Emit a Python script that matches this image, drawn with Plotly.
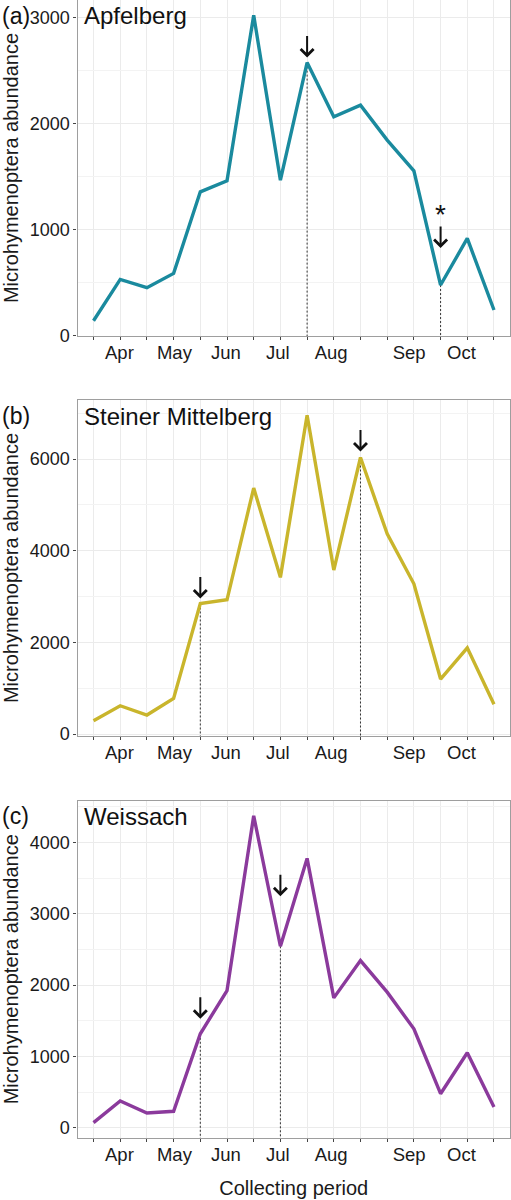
import plotly.graph_objects as go

# ---------------- data ----------------
samples = list(range(1, 17))
month_labels = ["Apr", "May", "Jun", "Jul", "Aug", "Sep", "Oct"]
month_pos = [1.97, 4.03, 5.96, 7.9, 9.9, 12.82, 14.78]

site_names = ["Apfelberg", "Steiner Mittelberg", "Weissach"]
panel_tags = ["(a)", "(b)", "(c)"]

apfelberg = [138, 528, 450, 585, 1355, 1459, 3022, 1465, 2575, 2063, 2173, 1843, 1553, 475, 915, 239]
steiner = [290, 617, 414, 776, 2850, 2930, 5369, 3420, 6958, 3580, 6036, 4368, 3279, 1200, 1880, 650]
weissach = [70, 373, 205, 229, 1316, 1923, 4373, 2544, 3776, 1820, 2343, 1900, 1386, 476, 1050, 289]

events_a = [9, 14]
events_b = [5, 11]
events_c = [5, 8]
starred_a = [14]

# ---------------- styles ----------------
y_dticks = [1000, 2000, 1000]
colors = ["#1a8a9e", "#c9b52c", "#8b3a9c"]
arrow_gaps = [[5, 37], [5, 6], [15, 50]]   # px between arrow tip and the point

W, H = 511, 1200
x_dom = [77.5 / W, 510.0 / W]
y_doms_px = [(-1, 336), (400, 736), (800.5, 1138)]
name_y_px = [16, 416, 816]

FONT = "Liberation Sans, Arial, sans-serif"
INK = "#111111"

fig = go.Figure()
series = [apfelberg, steiner, weissach]
events = [events_a, events_b, events_c]
starred = [starred_a, [], []]

annotations = []
for i in range(3):
    k = i + 1
    xs = "x" if k == 1 else f"x{k}"
    ys = "y" if k == 1 else f"y{k}"
    vals = series[i]
    lo = min(vals) - 0.05 * (max(vals) - min(vals))
    hi = max(vals) + 0.05 * (max(vals) - min(vals))

    # dashed drop lines
    for e in events[i]:
        fig.add_trace(go.Scatter(x=[samples[e - 1], samples[e - 1]], y=[vals[e - 1], lo],
                                 mode="lines", line=dict(color="#333333", width=1, dash="2px,2px"),
                                 xaxis=xs, yaxis=ys, showlegend=False, hoverinfo="skip"))
    fig.add_trace(go.Scatter(x=samples, y=vals, mode="lines",
                             line=dict(color=colors[i], width=3.4),
                             xaxis=xs, yaxis=ys, showlegend=False, name=site_names[i]))

    top, bot = y_doms_px[i]
    dom = [1 - bot / H, min(1.0, 1 - top / H)]
    fig.layout[f"xaxis{k if k > 1 else ''}"] = dict(
        domain=x_dom, anchor=ys, range=[0.4, 16.6],
        tickmode="array", tickvals=month_pos, ticktext=month_labels,
        ticks="", showgrid=False,
        minor=dict(tickmode="array", tickvals=samples, ticks="outside", ticklen=3,
                   tickcolor="#444444", showgrid=True, gridcolor="#ebebeb", gridwidth=1),
        showline=True, mirror=True, linecolor="#9e9e9e", linewidth=1.2,
        zeroline=False, automargin=False,
        tickfont=dict(family=FONT, size=18.5, color="#1a1a1a"),
        title=dict(text="Collecting period" if k == 3 else "",
                   font=dict(family=FONT, size=20, color="#1a1a1a"), standoff=16),
    )
    fig.layout[f"yaxis{k if k > 1 else ''}"] = dict(
        domain=dom, anchor=xs, range=[lo, hi],
        tickmode="linear", tick0=0, dtick=y_dticks[i],
        ticks="outside", ticklen=3, tickcolor="#444444",
        showgrid=True, gridcolor="#ebebeb", gridwidth=1,
        minor=dict(tickmode="linear", tick0=0, dtick=y_dticks[i] / 2, ticks="",
                   showgrid=True, gridcolor="#f3f3f3", gridwidth=1),
        showline=True, mirror=True, linecolor="#9e9e9e", linewidth=1.2,
        zeroline=False, automargin=False,
        tickfont=dict(family=FONT, size=18, color="#1a1a1a"),
        title=dict(text="Microhymenoptera abundance",
                   font=dict(family=FONT, size=20, color="#1a1a1a"), standoff=6),
    )

    # panel tag and site name
    annotations.append(dict(text=panel_tags[i], xref="paper", yref="paper",
                            x=0, y=1 - name_y_px[i] / H, xanchor="left", yanchor="middle",
                            showarrow=False, font=dict(family=FONT, size=23, color=INK)))
    annotations.append(dict(text=site_names[i], xref="paper", yref="paper",
                            x=82 / W, y=1 - name_y_px[i] / H, xanchor="left", yanchor="middle",
                            showarrow=False, font=dict(family=FONT, size=24, color=INK)))

    # arrows above events
    for j, e in enumerate(events[i]):
        gap = arrow_gaps[i][j]
        annotations.append(dict(text="", xref=xs, yref=ys, x=samples[e - 1], y=vals[e - 1],
                                showarrow=True, axref="pixel", ayref="pixel", ax=0, ay=-(gap + 23),
                                standoff=gap, arrowhead=4, arrowsize=1.25, arrowwidth=2,
                                arrowcolor=INK))
        if e in starred[i]:
            annotations.append(dict(text="*", xref=xs, yref=ys, x=samples[e - 1], y=vals[e - 1],
                                    xanchor="center", yanchor="middle", yshift=gap + 23 + 11,
                                    showarrow=False, font=dict(family=FONT, size=28, color=INK)))

fig.update_layout(
    width=W, height=H, margin=dict(l=0, r=0, t=0, b=0),
    template="none", paper_bgcolor="white", plot_bgcolor="white",
    showlegend=False, annotations=annotations,
)

fig.write_html("out.html", config={"displayModeBar": False},
               post_script="document.body.style.margin='0px';")
